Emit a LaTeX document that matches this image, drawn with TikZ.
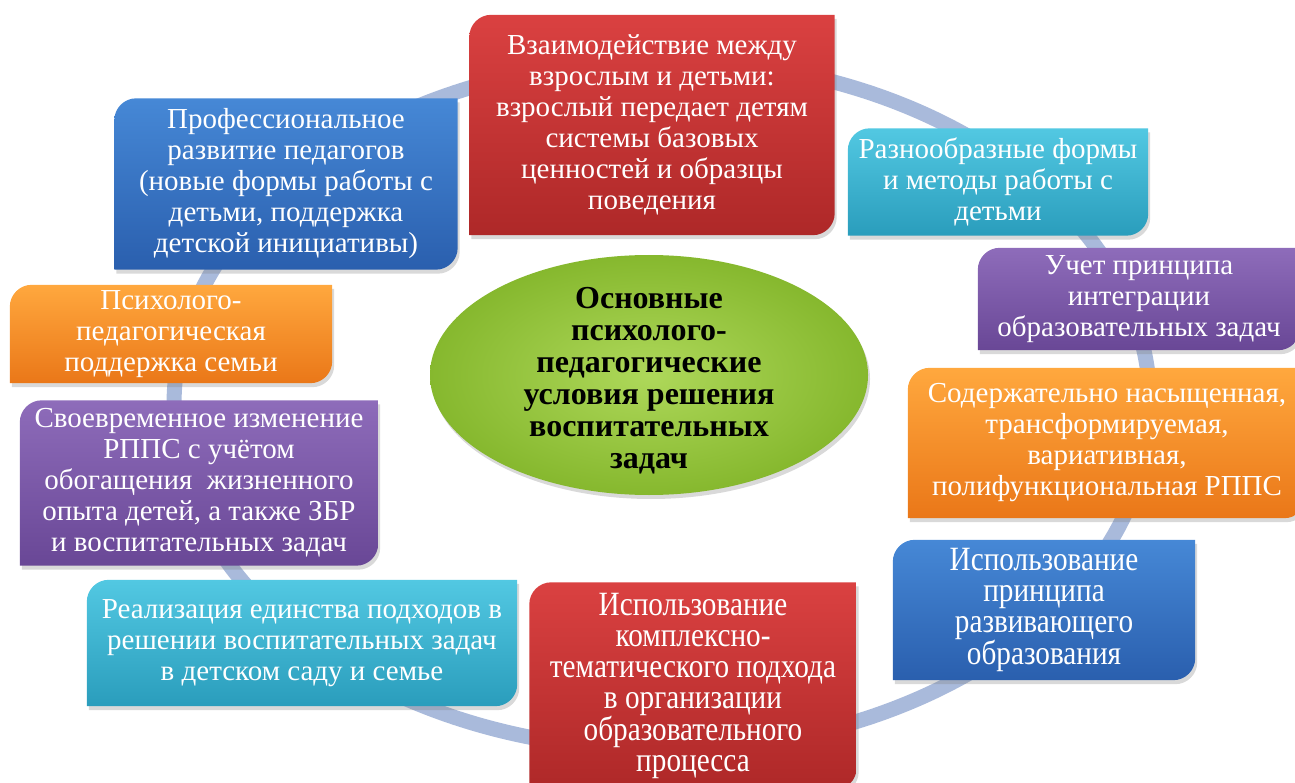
\documentclass[tikz,border=0pt]{standalone}
\usepackage{fontspec}
\setmainfont{Liberation Serif}
\usetikzlibrary{shapes.geometric,backgrounds,shadows}

\definecolor{redhi}{HTML}{DA4141}
\definecolor{redlo}{HTML}{AE2828}
\definecolor{bluhi}{HTML}{4688D6}
\definecolor{blulo}{HTML}{2A5FAE}
\definecolor{cyanhi}{HTML}{52C8E2}
\definecolor{cyanlo}{HTML}{2A9DBC}
\definecolor{purhi}{HTML}{8E6CBA}
\definecolor{purlo}{HTML}{694796}
\definecolor{orghi}{HTML}{FFA83E}
\definecolor{orglo}{HTML}{EA7718}
\definecolor{grnhi}{HTML}{AED85A}
\definecolor{grnlo}{HTML}{86B82E}
\definecolor{ringc}{HTML}{A9BADB}

\tikzset{
  cond/.style={align=center, text=white, inner sep=0pt,
    font=\fontsize{29}{31}\selectfont},
  narrow/.style={font=\fontsize{34}{31}\selectfont\addfontfeature{FakeStretch=#1}},
  core/.style={ellipse, inner sep=0pt, minimum width=438pt, minimum height=240pt,
    inner color=grnhi, outer color=grnlo,
    drop shadow={opacity=.3, shadow xshift=2pt, shadow yshift=-4pt}},
  coretext/.style={align=center, font=\fontsize{32}{32}\selectfont\bfseries}
}

% box with two round corners (top left, bottom right)
\newcommand\condbg[3]{%
  \shade[top color=#2, bottom color=#3,
    drop shadow={opacity=.3, shadow xshift=2pt, shadow yshift=-4pt}]
    (#1.south west) -- ([xshift=-22pt]#1.south east)
    arc[start angle=-90, end angle=0, radius=22pt] -- (#1.north east)
    -- ([xshift=22pt]#1.north west)
    arc[start angle=90, end angle=180, radius=22pt] -- cycle;}

\begin{document}
\begin{tikzpicture}[x=1pt, y=1pt]
  \useasboundingbox (0,0) rectangle (1295,-783);

  \node[cond, minimum width=365pt, minimum height=220pt] (vzaim) at (652,-125)
    {Взаимодействие между\\взрослым и детьми:\\взрослый передает детям\\системы базовых\\ценностей и образцы\\поведения};
  \node[cond, minimum width=343pt, minimum height=171pt] (prof) at (286,-184)
    {Профессиональное\\развитие педагогов\\(новые формы работы с\\детьми, поддержка\\детской инициативы)};
  \node[cond, minimum width=300pt, minimum height=107pt] (formy) at (998,-182)
    {Разнообразные формы\\и методы работы с\\детьми};
  \node[cond, minimum width=322pt, minimum height=102pt] (integr) at (1139,-299)
    {Учет принципа\\интеграции\\образовательных задач};
  \node[cond, minimum width=398pt, minimum height=150pt] (rpps) at (1107,-443)
    {Содержательно насыщенная,\\трансформируемая,\\вариативная,\\полифункциональная РППС};
  \node[cond, narrow=0.86, minimum width=302pt, minimum height=140pt] (razv) at (1044,-610)
    {Использование\\принципа\\развивающего\\образования};
  \node[cond, narrow=0.86, minimum width=327pt, minimum height=207pt] (kompl) at (693,-686)
    {Использование\\комплексно-\\тематического подхода\\в организации\\образовательного\\процесса};
  \node[cond, minimum width=430pt, minimum height=126pt] (edinstvo) at (302,-643)
    {Реализация единства подходов в\\решении воспитательных задач\\в детском саду и семье};
  \node[cond, minimum width=358pt, minimum height=165pt] (izmen) at (199,-483)
    {Своевременное изменение\\РППС с учётом\\обогащения~ жизненного\\опыта детей, а также ЗБР\\и воспитательных задач};
  \node[cond, minimum width=322pt, minimum height=98pt] (semya) at (171,-334)
    {Психолого-\\педагогическая\\поддержка семьи};

  \node[core] (core) at (649,-375) {};
  \node[coretext] (coretxt) at ([yshift=-6pt]core.center)
    {Основные\\психолого-\\педагогические\\условия решения\\воспитательных\\задач};

  \begin{scope}[on background layer]
    \draw[ringc, line width=15pt] (662,-405) ellipse [x radius=488, y radius=345];
    \foreach \n/\col in {vzaim/red, prof/blu, formy/cyan, integr/pur, rpps/org,
                         razv/blu, kompl/red, edinstvo/cyan, izmen/pur, semya/org}
      {\condbg{\n}{\col hi}{\col lo}}
  \end{scope}
\end{tikzpicture}
\end{document}
